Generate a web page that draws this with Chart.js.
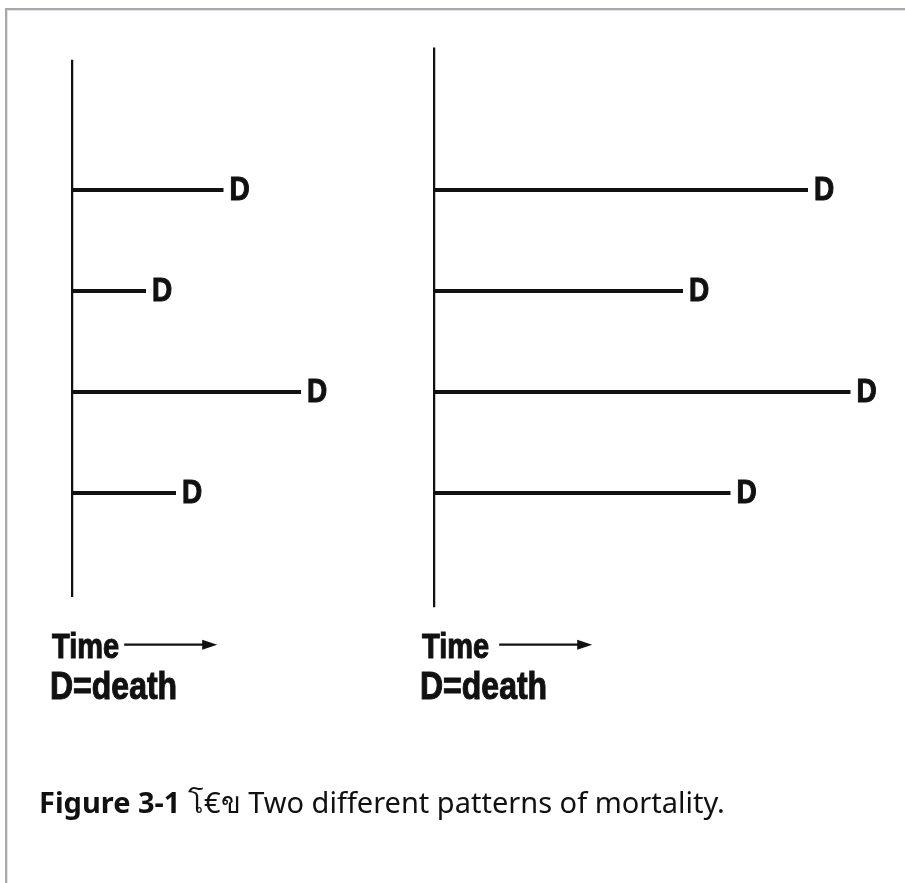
<!DOCTYPE html>
<html>
<head>
<meta charset="utf-8">
<script src="https://cdn.jsdelivr.net/npm/chart.js"></script>
<style>
body { margin: 0; background: #fff; }
#page { position: relative; width: 905px; height: 883px; overflow: hidden; }
#frame { position: absolute; left: 5px; top: 8px; width: 1000px; height: 1000px;
         border-left: 2px solid #a8a8a8; border-top: 2px solid #a8a8a8;
         box-shadow: inset 1px 1px 0 #e2e2f0; }
canvas { position: absolute; left: 0; top: 0; }
#caption { position: absolute; left: 39px; top: 787px; font-family: "Noto Sans", sans-serif;
           font-size: 29px; line-height: 29px; color: #111; white-space: nowrap; }
</style>
</head>
<body>
<div id="page">
  <div id="frame"></div>
  <canvas id="leftChart" width="905" height="883"></canvas>
  <canvas id="rightChart" width="905" height="883"></canvas>
  <div id="caption"><b>Figure 3-1</b> โ€ข Two different patterns of mortality.</div>
</div>
<script>
// subjects (rows) and time of death for each, in time units
const subjects = [1, 2, 3, 4];
const leftDeathTimes = [6.1, 3.0, 9.2, 4.2];
const rightDeathTimes = [15.0, 10.0, 16.7, 11.9];
// extent of the vertical (start) line, in row units
const leftSpan = [-0.29, 5.03];
const rightSpan = [-0.41, 5.13];
const deathLabel = 'D';
const timeLabel = 'Time';
const keyLabel = 'D=death';

const ink = '#111';

function makeDatasets(times, span) {
    const sets = [{
        data: [{ x: 0, y: span[0] }, { x: 0, y: span[1] }],
        borderColor: ink,
        borderWidth: 4.5,
        borderCapStyle: 'butt'
    }];
    subjects.forEach((s, i) => {
        sets.push({
            data: [{ x: 0, y: s }, { x: times[i], y: s }],
            borderColor: ink,
            borderWidth: 4,
            isSubject: true
        });
    });
    return sets;
}

function stretchedText(ctx, text, x, y, size) {
    ctx.save();
    ctx.translate(x, y);
    ctx.scale(1, 1.2);
    ctx.font = 'bold ' + size + 'px "Liberation Sans", Arial, sans-serif';
    ctx.fillStyle = ink;
    ctx.strokeStyle = ink;
    ctx.lineWidth = 0.9;
    ctx.textBaseline = 'alphabetic';
    ctx.textAlign = 'left';
    ctx.fillText(text, 0, 0);
    ctx.strokeText(text, 0, 0);
    ctx.restore();
}

const deathMarks = {
    id: 'deathMarks',
    afterDatasetsDraw(chart, args, opts) {
        const ctx = chart.ctx;
        chart.data.datasets.forEach((ds, i) => {
            if (!ds.isSubject) return;
            const end = chart.getDatasetMeta(i).data[1];
            stretchedText(ctx, deathLabel, end.x + 6, end.y + 10, 28);
        });
        // time key under the panel
        const x0 = chart.scales.x.getPixelForValue(0) + opts.keyDx;
        const yScale = chart.scales.y;
        const yTime = yScale.getPixelForValue(5.63);
        const yKey = yScale.getPixelForValue(6.04);
        stretchedText(ctx, timeLabel, x0, yTime, 29);
        ctx.save();
        ctx.font = 'bold 29px "Liberation Sans", Arial, sans-serif';
        const ax0 = x0 + ctx.measureText(timeLabel).width + opts.arrowGap;
        const ax1 = ax0 + 93;
        const ay = yTime - 13;
        ctx.strokeStyle = ink;
        ctx.fillStyle = ink;
        ctx.lineWidth = 2.2;
        ctx.beginPath();
        ctx.moveTo(ax0, ay);
        ctx.lineTo(ax1 - 10, ay);
        ctx.stroke();
        ctx.beginPath();
        ctx.moveTo(ax1, ay);
        ctx.lineTo(ax1 - 15, ay - 5);
        ctx.lineTo(ax1 - 15, ay + 5);
        ctx.closePath();
        ctx.fill();
        ctx.restore();
        stretchedText(ctx, keyLabel, x0 - 2, yKey, 32);
    }
};

function makeChart(id, times, span, padLeft, keyDx, arrowGap) {
    new Chart(document.getElementById(id), {
        type: 'scatter',
        data: { datasets: makeDatasets(times, span) },
        options: {
            responsive: false,
            animation: false,
            events: [],
            showLine: true,
            elements: { point: { radius: 0 } },
            layout: { padding: { left: padLeft, right: 905 - padLeft - 450, top: 38.5, bottom: 188 } },
            scales: {
                x: { type: 'linear', min: 0, max: 18, display: false },
                y: { type: 'linear', min: -0.5, max: 6, reverse: true, display: false }
            },
            plugins: {
                legend: { display: false },
                tooltip: { enabled: false },
                deathMarks: { keyDx: keyDx, arrowGap: arrowGap }
            }
        },
        plugins: [deathMarks]
    });
}

makeChart('leftChart', leftDeathTimes, leftSpan, 71, -19, 5);
makeChart('rightChart', rightDeathTimes, rightSpan, 433, -11, 10);
</script>
</body>
</html>
